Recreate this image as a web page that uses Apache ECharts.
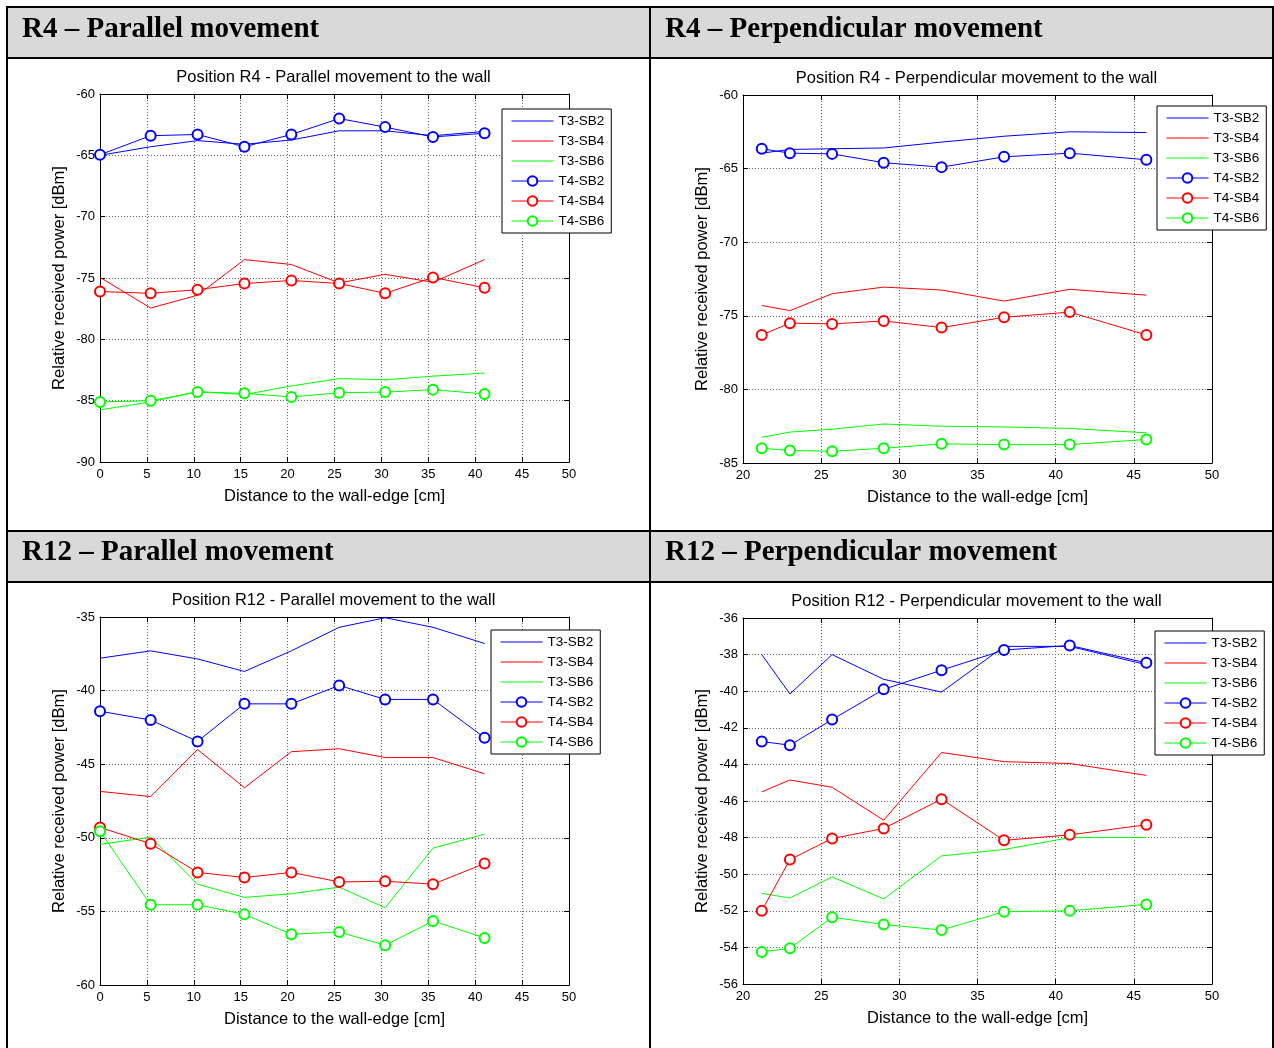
<!DOCTYPE html>
<html>
<head>
<meta charset="utf-8">
<script src="https://cdn.jsdelivr.net/npm/echarts@6/dist/echarts.min.js"></script>
<style>
html, body { margin: 0; padding: 0; background: #fff; }
#main { width: 1274px; height: 1048px; }
</style>
</head>
<body>
<div id="main"></div>
<script>
// distances [cm]
var xParallel = [0, 5.4, 10.4, 15.4, 20.4, 25.5, 30.4, 35.5, 41];
var xPerp = [21.2, 23, 25.7, 29, 32.7, 36.7, 40.9, 45.8];

var seriesNames = ['T3-SB2', 'T3-SB4', 'T3-SB6', 'T4-SB2', 'T4-SB4', 'T4-SB6'];

// R4 - parallel
var r4ParT3SB2 = [-65.0, -64.3, -63.8, -64.1, -63.75, -63.0, -63.0, -63.4, -63.05];
var r4ParT3SB4 = [-74.95, -77.45, -76.4, -73.5, -73.9, -75.4, -74.7, -75.35, -73.5];
var r4ParT3SB6 = [-85.75, -85.1, -84.25, -84.5, -83.8, -83.2, -83.3, -83.0, -82.75];
var r4ParT4SB2 = [-64.95, -63.4, -63.3, -64.3, -63.3, -62.0, -62.7, -63.5, -63.2];
var r4ParT4SB4 = [-76.1, -76.25, -75.95, -75.45, -75.2, -75.45, -76.25, -74.95, -75.8];
var r4ParT4SB6 = [-85.1, -85.0, -84.3, -84.4, -84.7, -84.35, -84.3, -84.1, -84.45];

// R4 - perpendicular
var r4PerT3SB2 = [-63.95, -63.7, -63.65, -63.6, -63.2, -62.8, -62.5, -62.55];
var r4PerT3SB4 = [-74.3, -74.65, -73.5, -73.05, -73.25, -74.0, -73.2, -73.6];
var r4PerT3SB6 = [-83.25, -82.9, -82.7, -82.35, -82.5, -82.55, -82.65, -82.95];
var r4PerT4SB2 = [-63.65, -63.95, -64.0, -64.6, -64.9, -64.2, -63.95, -64.4];
var r4PerT4SB4 = [-76.3, -75.5, -75.55, -75.35, -75.8, -75.1, -74.75, -76.3];
var r4PerT4SB6 = [-84.0, -84.15, -84.2, -84.0, -83.7, -83.75, -83.75, -83.4];

// R12 - parallel
var r12ParT3SB2 = [-37.8, -37.3, -37.85, -38.7, -37.3, -35.7, -35.05, -35.7, -36.8];
var r12ParT3SB4 = [-46.85, -47.2, -44.0, -46.6, -44.15, -43.95, -44.55, -44.55, -45.65];
var r12ParT3SB6 = [-50.45, -49.95, -53.15, -54.05, -53.8, -53.35, -54.75, -50.7, -49.75];
var r12ParT4SB2 = [-41.4, -42.0, -43.45, -40.9, -40.9, -39.65, -40.6, -40.6, -43.2];
var r12ParT4SB4 = [-49.3, -50.4, -52.35, -52.7, -52.35, -53.0, -52.95, -53.15, -51.75];
var r12ParT4SB6 = [-49.55, -54.55, -54.55, -55.2, -56.55, -56.4, -57.3, -55.65, -56.8];

// R12 - perpendicular
var r12PerT3SB2 = [-38.0, -40.15, -38.0, -39.35, -40.05, -37.55, -37.55, -38.55];
var r12PerT3SB4 = [-45.5, -44.85, -45.25, -47.05, -43.35, -43.85, -43.95, -44.6];
var r12PerT3SB6 = [-51.05, -51.3, -50.15, -51.35, -49.0, -48.65, -48.0, -48.0];
var r12PerT4SB2 = [-42.75, -42.95, -41.55, -39.9, -38.85, -37.75, -37.5, -38.45];
var r12PerT4SB4 = [-52.0, -49.2, -48.05, -47.5, -45.9, -48.15, -47.85, -47.3];
var r12PerT4SB6 = [-54.25, -54.05, -52.35, -52.75, -53.05, -52.05, -52.0, -51.65];

var panels = [
  { header: 'R4 \u2013 Parallel movement', title: 'Position R4 - Parallel movement to the wall',
    x: xParallel, ys: [r4ParT3SB2, r4ParT3SB4, r4ParT3SB6, r4ParT4SB2, r4ParT4SB4, r4ParT4SB6],
    xMin: 0, xMax: 50, yMin: -90, yMax: -60, yInt: 5,
    grid: { left: 100, top: 94, width: 469, height: 368 }, legend: { left: 502, top: 109 }, head: [22, 33] },
  { header: 'R4 \u2013 Perpendicular movement', title: 'Position R4 - Perpendicular movement to the wall',
    x: xPerp, ys: [r4PerT3SB2, r4PerT3SB4, r4PerT3SB6, r4PerT4SB2, r4PerT4SB4, r4PerT4SB6],
    xMin: 20, xMax: 50, yMin: -85, yMax: -60, yInt: 5,
    grid: { left: 743, top: 95, width: 469, height: 368 }, legend: { left: 1157, top: 106 }, head: [665, 33] },
  { header: 'R12 \u2013 Parallel movement', title: 'Position R12 - Parallel movement to the wall',
    x: xParallel, ys: [r12ParT3SB2, r12ParT3SB4, r12ParT3SB6, r12ParT4SB2, r12ParT4SB4, r12ParT4SB6],
    xMin: 0, xMax: 50, yMin: -60, yMax: -35, yInt: 5,
    grid: { left: 100, top: 617, width: 469, height: 368 }, legend: { left: 491, top: 630 }, head: [22, 556] },
  { header: 'R12 \u2013 Perpendicular movement', title: 'Position R12 - Perpendicular movement to the wall',
    x: xPerp, ys: [r12PerT3SB2, r12PerT3SB4, r12PerT3SB6, r12PerT4SB2, r12PerT4SB4, r12PerT4SB6],
    xMin: 20, xMax: 50, yMin: -56, yMax: -36, yInt: 2,
    grid: { left: 743, top: 618, width: 469, height: 366 }, legend: { left: 1155, top: 631 }, head: [665, 556] }
];

var colors = ['#0000ff', '#ff0000', '#00ff00', '#0000ff', '#ff0000', '#00ff00'];
var font = 'Liberation Sans, Arial, sans-serif';
// plain line icon for the legend entries without markers
var lineIcon = 'path://M0,0M0,5.5L42,5.5L42,6.5L0,6.5ZM42,12';

var grids = [], xAxes = [], yAxes = [], series = [], legends = [], titles = [];
var graphics = [
  // table headers and borders
  { type: 'rect', shape: { x: 7, y: 7, width: 1266, height: 51 }, style: { fill: '#d9d9d9' } },
  { type: 'rect', shape: { x: 7, y: 531, width: 1266, height: 51 }, style: { fill: '#d9d9d9' } },
  { type: 'rect', shape: { x: 7, y: 7, width: 1266, height: 1060 }, style: { fill: null, stroke: '#000', lineWidth: 2 } },
  { type: 'line', shape: { x1: 650, y1: 7, x2: 650, y2: 1060 }, style: { stroke: '#000', lineWidth: 2 } },
  { type: 'line', shape: { x1: 7, y1: 58, x2: 1273, y2: 58 }, style: { stroke: '#000', lineWidth: 2 } },
  { type: 'line', shape: { x1: 7, y1: 531, x2: 1273, y2: 531 }, style: { stroke: '#000', lineWidth: 2 } },
  { type: 'line', shape: { x1: 7, y1: 582, x2: 1273, y2: 582 }, style: { stroke: '#000', lineWidth: 2 } }
];

panels.forEach(function (p, i) {
  grids.push(p.grid);
  var cx = p.grid.left + p.grid.width / 2;
  titles.push({
    text: p.title, left: cx - 6, top: p.grid.top - 30, textAlign: 'center',
    textStyle: { fontFamily: font, fontSize: 16.5, fontWeight: 'normal', color: '#000' }
  });
  graphics.push({
    type: 'text', left: p.head[0], top: p.head[1] - 18,
    style: { text: p.header, fontFamily: 'Liberation Serif, Times New Roman, serif', fontWeight: 'bold', fontSize: 29, fill: '#000' }
  });
  var tick = { show: true, inside: true, length: 5, lineStyle: { color: '#000' } };
  var line = { show: true, onZero: false, lineStyle: { color: '#000', width: 1 } };
  var grid = { show: true, lineStyle: { color: '#666', type: [1, 2], width: 1 } };
  xAxes.push({
    type: 'value', gridIndex: i, position: 'bottom', min: p.xMin, max: p.xMax, interval: 5,
    axisLine: line, axisTick: tick, splitLine: grid,
    axisLabel: { color: '#000', fontFamily: font, fontSize: 13, margin: 6 },
    name: 'Distance to the wall-edge [cm]', nameLocation: 'middle', nameGap: 26,
    nameTextStyle: { color: '#000', fontFamily: font, fontSize: 16.5 }
  });
  xAxes.push({
    type: 'value', gridIndex: i, position: 'top', min: p.xMin, max: p.xMax, interval: 5,
    axisLine: line, axisTick: tick, splitLine: { show: false }, axisLabel: { show: false }
  });
  yAxes.push({
    type: 'value', gridIndex: i, position: 'left', min: p.yMin, max: p.yMax, interval: p.yInt,
    axisLine: line, axisTick: tick, splitLine: grid,
    axisLabel: { color: '#000', fontFamily: font, fontSize: 13, margin: 5 },
    name: 'Relative received power [dBm]', nameLocation: 'middle', nameGap: 32,
    nameTextStyle: { color: '#000', fontFamily: font, fontSize: 16.5 }
  });
  yAxes.push({
    type: 'value', gridIndex: i, position: 'right', min: p.yMin, max: p.yMax, interval: p.yInt,
    axisLine: line, axisTick: tick, splitLine: { show: false }, axisLabel: { show: false }
  });
  p.ys.forEach(function (vals, k) {
    series.push({
      name: seriesNames[k], type: 'line', xAxisIndex: i * 2, yAxisIndex: i * 2,
      data: p.x.map(function (xv, j) { return [xv, vals[j]]; }),
      symbol: k < 3 ? 'none' : 'emptyCircle', symbolSize: 10, showSymbol: k >= 3,
      lineStyle: { color: colors[k], width: 1 },
      itemStyle: { color: colors[k], borderColor: colors[k], borderWidth: 1 },
      emphasis: { disabled: true }
    });
  });
  legends.push({
    orient: 'vertical', left: p.legend.left, top: p.legend.top,
    data: seriesNames.map(function (n, k) {
      return k < 3 ? { name: n, icon: lineIcon, itemStyle: { borderWidth: 0 } } : { name: n };
    }),
    itemWidth: 42, itemHeight: 12, itemGap: 6,
    lineStyle: { width: 1 }, itemStyle: { borderWidth: 1 },
    padding: [5, 7, 5, 9], borderColor: '#000', borderWidth: 1, backgroundColor: '#fff',
    textStyle: { color: '#000', fontFamily: font, fontSize: 13.5, lineHeight: 14 },
    selectedMode: false
  });
});

var chart = echarts.init(document.getElementById('main'));
chart.setOption({
  animation: false,
  backgroundColor: '#fff',
  title: titles,
  grid: grids,
  xAxis: xAxes,
  yAxis: yAxes,
  legend: legends,
  series: series,
  graphic: graphics
});
</script>
</body>
</html>
